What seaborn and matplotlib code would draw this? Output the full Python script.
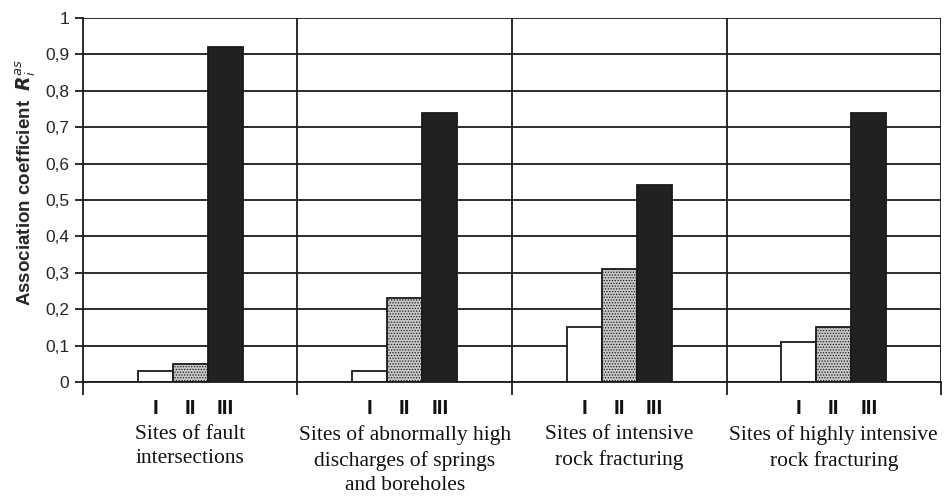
import numpy as np
import pandas as pd
import matplotlib
matplotlib.use("Agg")
import matplotlib.pyplot as plt
import matplotlib.transforms as mtransforms
import seaborn as sns

sns.set_theme(style="white")
plt.rcParams["font.family"] = ["Liberation Sans", "DejaVu Sans"]
plt.rcParams["hatch.linewidth"] = 0.6

# ── DATA
groups = ["Sites of fault\nintersections",
          "Sites of abnormally high\ndischarges of springs\nand boreholes",
          "Sites of intensive\nrock fracturing",
          "Sites of highly intensive\nrock fracturing"]
classes = ["I", "II", "III"]
vals_I = [0.03, 0.03, 0.15, 0.11]
vals_II = [0.05, 0.23, 0.31, 0.15]
vals_III = [0.92, 0.74, 0.54, 0.74]
yticks = [0, 0.1, 0.2, 0.3, 0.4, 0.5, 0.6, 0.7, 0.8, 0.9, 1]
ytick_labels = ["0", "0,1", "0,2", "0,3", "0,4", "0,5", "0,6", "0,7", "0,8", "0,9", "1"]

df = pd.DataFrame({
    "group": groups * 3,
    "cls": [c for c in classes for _ in groups],
    "value": vals_I + vals_II + vals_III,
})

fig = plt.figure(figsize=(9.45, 4.99), dpi=100)
ax = fig.add_axes([0.0878, 0.2345, 0.9080, 0.7294])

# gridlines + group separators behind the bars
for y in yticks:
    ax.axhline(y, color="#1a1a1a", lw=1.3, zorder=0)
for xb in [0.5, 1.5, 2.5, 3.5]:
    ax.axvline(xb, color="#1a1a1a", lw=1.3, zorder=0)

sns.barplot(data=df, x="group", y="value", hue="cls", order=groups, hue_order=classes,
            width=0.49, palette=["white", "#c8c8c8", "#231f20"], edgecolor="#1a1a1a",
            linewidth=1.3, legend=False, ax=ax, zorder=2)

# stipple on class II bars
n = len(groups)
for i, p in enumerate(ax.patches):
    if n <= i < 2 * n:
        p.set_hatch("......")
        p.set_edgecolor("#1a1a1a")

ax.set_xlim(-0.5, 3.5)
ax.set_ylim(0, 1)
ax.set_yticks(yticks)
ax.set_yticklabels(ytick_labels, fontsize=12.5)
ax.tick_params(axis="y", direction="out", length=6, width=1.3, color="#1a1a1a", left=True, pad=4)

# group separators extend below the axis as ticks
ax.set_xticks([-0.5, 0.5, 1.5, 2.5, 3.5], minor=True)
ax.tick_params(axis="x", which="minor", direction="out", length=9, width=1.3,
               color="#1a1a1a", bottom=True)
ax.set_xticks(range(n))
ax.set_xticklabels(groups, family=["Liberation Serif", "DejaVu Serif"], fontsize=15.5,
                   linespacing=1.38, va="top", color="#111111")
ax.tick_params(axis="x", which="major", length=0, pad=31)
ax.set_xlabel("")

# roman numerals under each bar
trans = mtransforms.blended_transform_factory(ax.transData, ax.transAxes)
for i, p in enumerate(ax.patches[:3 * n]):
    cx = p.get_x() + p.get_width() / 2
    ax.text(cx, -0.072, classes[i // n], transform=trans, ha="center", va="center",
            fontsize=15, fontweight="bold", color="#111111",
            family=["Liberation Sans Narrow", "Liberation Sans"])

ax.set_ylabel(r"Association coefficient  $\mathbfit{R}_{\mathit{i}}^{\mathit{as}}$",
              fontsize=13.5, fontweight="bold")
ax.yaxis.set_label_coords(-0.052, 0.547)

for s in ["top", "right"]:
    ax.spines[s].set_visible(False)
for s in ["left", "bottom"]:
    ax.spines[s].set_color("#1a1a1a")
    ax.spines[s].set_linewidth(1.3)

plt.savefig("out.png", dpi=100)
